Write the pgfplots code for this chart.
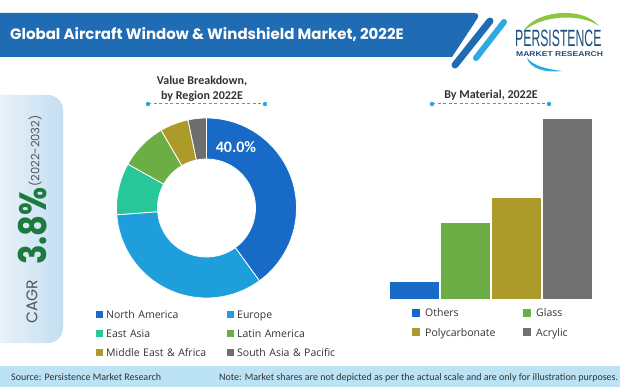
\documentclass[border=0pt]{standalone}
\usepackage{graphicx}
\usepackage{pgfplots}
\pgfplotsset{compat=1.18}
\usepackage{pgfplotstable}
\usepackage{fontspec}
\setmainfont{Carlito}
\newfontfamily\popp{Poppins}
\newfontfamily\osans{Open Sans}
\newfontfamily\lsans{Liberation Sans}

\definecolor{banner}{HTML}{1F6CB5}
\definecolor{cNA}{HTML}{176AC5}
\definecolor{cEU}{HTML}{1E9EDB}
\definecolor{cEA}{HTML}{27C79A}
\definecolor{cLA}{HTML}{6DAD46}
\definecolor{cME}{HTML}{AC9B2B}
\definecolor{cSA}{HTML}{6E6E6E}
\definecolor{acryl}{HTML}{717171}
\definecolor{cagrgreen}{HTML}{1C7A3C}
\definecolor{cagrblue}{HTML}{C4DEF2}
\definecolor{cagrwhite}{HTML}{F3F8FC}
\definecolor{footer}{HTML}{BBE3F5}
\definecolor{dotblue}{HTML}{2AA5DF}
\definecolor{logoblue}{HTML}{1D4E7E}
\definecolor{logogreen}{HTML}{8DC63F}
\definecolor{stripelight}{HTML}{2FA9E1}
\definecolor{txt}{HTML}{333333}
\definecolor{cagrgray}{HTML}{555555}

% region shares (%), clockwise from 12 o'clock
\pgfplotstableread{
idx share
0 40.0
1 33.8
2 9.3
3 8.5
4 5.1
5 3.3
}\regiontable

\begin{document}
\begin{tikzpicture}
\useasboundingbox (0pt,0pt) rectangle (620pt,-387pt);
\fill[white] (0pt,0pt) rectangle (620pt,-387pt);

\begin{scope}[x=1pt,y=-1pt]
% header banner
\fill[banner] (-20,57) -- (-20,13) [rounded corners=7pt] -- (481,13) [sharp corners] -- (452,57) -- cycle;
\draw[banner, line width=7pt, line cap=round] (490,21) -- (455,65);
\draw[stripelight, line width=6pt, line cap=round] (504,22) -- (476,58);
\node[anchor=base west, inner sep=0pt, text=white] at (10,40)
  {\popp\bfseries\fontsize{15}{17}\selectfont Global Aircraft Window \& Windshield Market, 2022E};
% logo
\fill[logogreen] (523,32) .. controls (533,11) and (582,5) .. (599,26) .. controls (581,13) and (540,15) .. (523,32) -- cycle;
\fill[stripelight] (527,58) .. controls (530,69) and (546,73) .. (562,71) .. controls (546,69) and (534,66) .. (527,58) -- cycle;
\node[anchor=base west, inner sep=0pt, text=logoblue] at (515,46.5)
  {\scalebox{0.52}[1]{\lsans\fontsize{23.5}{23.5}\selectfont PERSISTENCE}};
\node[anchor=base west, inner sep=0pt, text=logoblue] at (516,56.5)
  {\scalebox{1.22}[1]{\lsans\bfseries\fontsize{7}{7}\selectfont MARKET RESEARCH}};

% CAGR panel
\shade[left color=cagrwhite, right color=cagrblue] (-20,95) [rounded corners=15pt] -- (63,95) -- (63,343) -- (-20,343) [sharp corners] -- cycle;
\node[rotate=90, text=cagrgray, inner sep=0pt] at (32,302) {\popp\fontsize{15.5}{17}\selectfont CAGR};
\node[rotate=90, text=cagrgreen, inner sep=0pt] at (32.5,226) {\scalebox{0.85}[1]{\popp\bfseries\fontsize{38}{40}\selectfont 3.8\%}};
\node[rotate=90, text=cagrgray, inner sep=0pt] at (35,151) {\popp\fontsize{11.5}{13}\selectfont (2022-2032)};

% chart titles
\node[align=center, text=txt, inner sep=0pt, font=\bfseries\fontsize{12}{14.5}\selectfont] at (202,89)
  {Value Breakdown,\\ by Region 2022E};
\draw[dotblue, line width=1pt, dash pattern=on 3pt off 2.5pt] (148,104) -- (265,104);
\fill[dotblue] (148,104) circle[radius=2.2pt] (265,104) circle[radius=2.2pt];
\node[text=txt, inner sep=0pt, font=\bfseries\fontsize{12}{14.5}\selectfont] at (491,95)
  {By Material, 2022E};
\draw[dotblue, line width=1pt, dash pattern=on 3pt off 2.5pt] (432,104) -- (549,104);
\fill[dotblue] (432,104) circle[radius=2.2pt] (549,104) circle[radius=2.2pt];

% footer
\fill[footer] (0,366) rectangle (620,387);
\node[anchor=base west, inner sep=0pt, text=txt] at (11,380.5) {\fontsize{10}{12}\selectfont Source: Persistence Market Research};
\node[anchor=base west, inner sep=0pt, text=txt] at (219,380.5) {\fontsize{10}{12}\selectfont Note: Market shares are not depicted as per the actual scale and are only for illustration purposes.};
\end{scope}

% donut
\begin{axis}[at={(206.5pt,-208pt)}, anchor=center, hide axis, clip=false,
  x=1pt, y=1pt, xmin=-95, xmax=95, ymin=-95, ymax=95,
  legend columns=2,
  legend image code/.code={\fill[#1] (0pt,0.3pt) rectangle (7pt,7.3pt);},
  legend style={draw=none, fill=none, inner sep=0pt,
    at={(-0.0816,-0.0358)}, anchor=north west,
    font=\osans\fontsize{10.5}{12}\selectfont, text=txt,
    cells={anchor=base west},
    nodes={inner sep=0pt, text height=8pt, text depth=2.5pt, text width=121pt, align=left},
    /tikz/every odd column/.append style={column sep=3pt},
    row sep=8.7pt}]
\gdef\cum{0}
\foreach \i/\c in {0/cNA,1/cEU,2/cEA,3/cLA,4/cME,5/cSA}{
  \pgfplotstablegetelem{\i}{share}\of\regiontable
  \let\val\pgfplotsretval
  \pgfmathsetmacro\aone{90-3.6*\cum}
  \pgfmathsetmacro\atwo{90-3.6*(\cum+\val)}
  \pgfmathsetmacro\newcum{\cum+\val}
  \xdef\cum{\newcum}
  \pgfmathsetmacro\xa{90*cos(\aone)}
  \pgfmathsetmacro\ya{90*sin(\aone)}
  \pgfmathsetmacro\xb{49*cos(\atwo)}
  \pgfmathsetmacro\yb{49*sin(\atwo)}
  \edef\temp{\noexpand\fill[fill=\c, draw=white, line width=0.8pt] (axis cs:\xa,\ya) arc[start angle=\aone, end angle=\atwo, radius=90pt] -- (axis cs:\xb,\yb) arc[start angle=\atwo, end angle=\aone, radius=49pt] -- cycle;}
  \temp
}
\node[text=white, inner sep=0pt] at (axis cs:29.5,60.5) {\bfseries\fontsize{16}{18}\selectfont 40.0\%};
\addlegendimage{fill=cNA, draw=none}\addlegendentry{North America}
\addlegendimage{fill=cEU, draw=none}\addlegendentry{Europe}
\addlegendimage{fill=cEA, draw=none}\addlegendentry{East Asia}
\addlegendimage{fill=cLA, draw=none}\addlegendentry{Latin America}
\addlegendimage{fill=cME, draw=none}\addlegendentry{Middle East \& Africa}
\addlegendimage{fill=cSA, draw=none}\addlegendentry{South Asia \& Pacific}
\end{axis}

% bars by material
\begin{axis}[at={(389pt,-299pt)}, anchor=south west, hide axis, clip=false,
  x=51pt, y=3.742pt, xmin=-0.5, xmax=3.5, ymin=0, ymax=48.1,
  legend columns=2,
  legend image code/.code={\fill[#1] (0pt,0pt) rectangle (8pt,8pt);},
  legend style={draw=none, fill=none, inner sep=0pt,
    at={(0.1127,-0.0544)}, anchor=north west,
    font=\osans\fontsize{10.5}{12}\selectfont, text=txt,
    cells={anchor=base west},
    nodes={inner sep=0pt, text height=8pt, text depth=2.5pt, text width=98pt, align=left},
    /tikz/every odd column/.append style={column sep=5pt},
    row sep=9pt}]
\addplot[ybar, bar width=49.5pt, bar shift=0pt, fill=cNA, draw=none, forget plot] coordinates {(0,4.6)};
\addplot[ybar, bar width=49.5pt, bar shift=0pt, fill=cLA, draw=none, forget plot] coordinates {(1,20.3)};
\addplot[ybar, bar width=49.5pt, bar shift=0pt, fill=cME, draw=none, forget plot] coordinates {(2,27.0)};
\addplot[ybar, bar width=49.5pt, bar shift=0pt, fill=acryl, draw=none, forget plot] coordinates {(3,48.1)};
\addlegendimage{fill=cNA, draw=none}\addlegendentry{Others}
\addlegendimage{fill=cLA, draw=none}\addlegendentry{Glass}
\addlegendimage{fill=cME, draw=none}\addlegendentry{Polycarbonate}
\addlegendimage{fill=acryl, draw=none}\addlegendentry{Acrylic}
\end{axis}
\end{tikzpicture}
\end{document}
